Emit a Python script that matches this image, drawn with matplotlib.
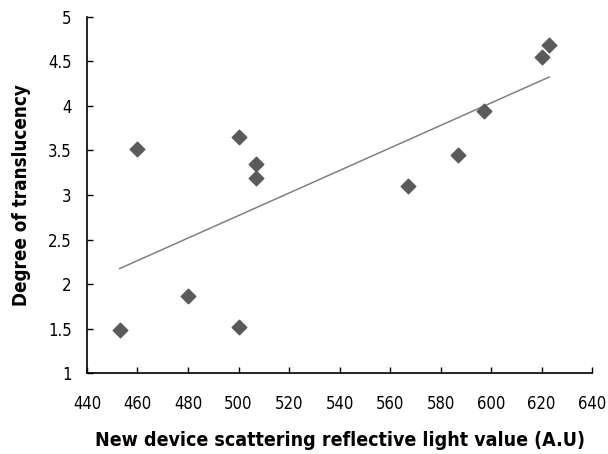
import matplotlib
matplotlib.use("Agg")
import matplotlib.pyplot as plt
import numpy as np

plt.rcParams['font.family'] = ['DejaVu Sans']
plt.rcParams['font.stretch'] = 'condensed'

# scattering reflective light value (A.U) vs degree of translucency
light_value = [453, 460, 480, 500, 500, 507, 507, 567, 587, 597, 620, 623]
translucency = [1.48, 3.52, 1.87, 1.52, 3.65, 3.35, 3.19, 3.10, 3.45, 3.94, 4.55, 4.68]

x_ticks = [440, 460, 480, 500, 520, 540, 560, 580, 600, 620, 640]
y_ticks = [1, 1.5, 2, 2.5, 3, 3.5, 4, 4.5, 5]
y_labels = ['1', '1.5', '2', '2.5', '3', '3.5', '4', '4.5', '5']

fig = plt.figure(figsize=(6.08, 4.54), dpi=100)
ax = fig.add_axes([0.143, 0.178, 0.831, 0.785])

ax.scatter(light_value, translucency, marker='D', s=55, color='#5a5a5a', zorder=3)

# linear trend line over the range of the data
coef = np.polyfit(light_value, translucency, 1)
xs = np.array([min(light_value), max(light_value)])
ax.plot(xs, np.polyval(coef, xs), color='#808080', lw=1.1)

ax.set_xlim(440, 640)
ax.set_ylim(1, 5)
ax.set_xticks(x_ticks)
ax.set_yticks(y_ticks)
ax.set_yticklabels(y_labels)
ax.tick_params(direction='in', length=4, width=1, labelsize=12)
ax.tick_params(axis='x', pad=16)
ax.tick_params(axis='y', pad=11)

for side in ['top', 'right']:
    ax.spines[side].set_visible(False)
ax.spines['left'].set_linewidth(1.2)
ax.spines['bottom'].set_linewidth(1.2)

ax.set_xlabel('New device scattering reflective light value (A.U)', fontsize=14, fontweight='bold', labelpad=13)
ax.set_ylabel('Degree of translucency', fontsize=13.5, fontweight='bold', labelpad=12)

fig.savefig('out.png', dpi=100)
